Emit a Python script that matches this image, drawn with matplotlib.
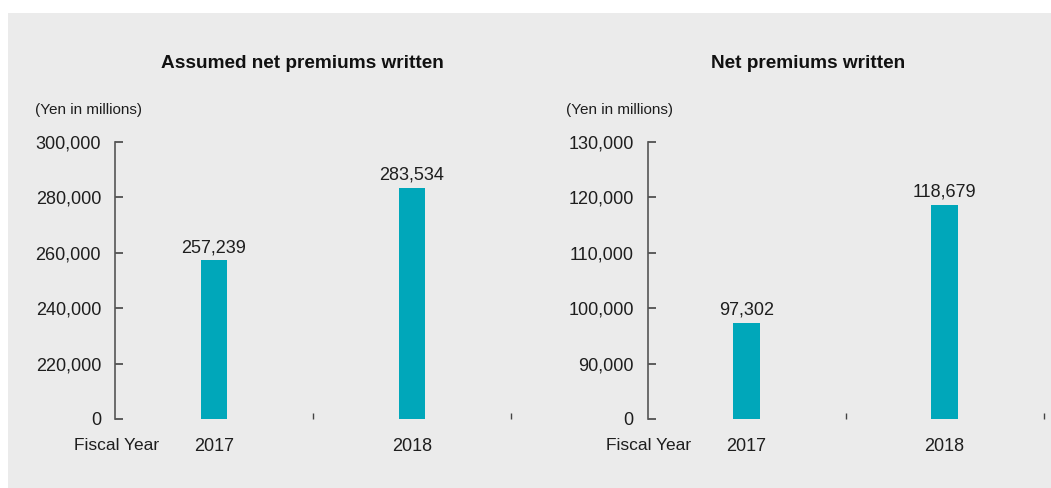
import matplotlib
matplotlib.use('Agg')
import matplotlib.pyplot as plt
from matplotlib.patches import Rectangle
from matplotlib.ticker import FixedLocator

# data
years = ['2017', '2018']
assumed_values = [257239, 283534]
net_values = [97302, 118679]

# broken scales: bottom tick is labelled 0
assumed_ticks = [200000, 220000, 240000, 260000, 280000, 300000]
assumed_labels = ['0', '220,000', '240,000', '260,000', '280,000', '300,000']
net_ticks = [80000, 90000, 100000, 110000, 120000, 130000]
net_labels = ['0', '90,000', '100,000', '110,000', '120,000', '130,000']

BAR_COLOR = '#00a7ba'
BG = '#ebebeb'
TEXT = '#1e1e1e'

plt.rcParams['font.family'] = ['Liberation Sans', 'DejaVu Sans']

fig = plt.figure(figsize=(10.51, 4.88), dpi=100)
fig.patch.set_facecolor('white')
# gray panel behind both charts
fig.patches.append(Rectangle((8 / 1051, 0), 1 - 8 / 1051, 1 - 13 / 488,
                             transform=fig.transFigure, facecolor=BG,
                             edgecolor='none', zorder=-10))

panels = [
    (0.1094, 'Assumed net premiums written', assumed_values, assumed_ticks, assumed_labels,
     302 / 1051, 35 / 1051, 159 / 1051),
    (0.6161, 'Net premiums written', net_values, net_ticks, net_labels,
     808.5 / 1051, 566 / 1051, 691 / 1051),
]

for left, title, values, ticks, labels, title_x, unit_x, fy_x in panels:
    ax = fig.add_axes([left, 0.1414, 0.3768, 0.5676])
    ax.set_facecolor('none')
    x = range(len(years))
    bars = ax.bar(x, values, width=0.136, color=BAR_COLOR, zorder=2)
    ax.bar_label(bars, labels=[f'{v:,}' for v in values], padding=3,
                 fontsize=13, color=TEXT)

    ax.set_xlim(-0.5, 1.5)
    ax.set_ylim(ticks[0], ticks[-1])
    ax.set_yticks(ticks)
    ax.set_yticklabels(labels)
    ax.set_xticks(list(x))
    ax.set_xticklabels(years)
    ax.xaxis.set_minor_locator(FixedLocator([0.5, 1.5]))

    for side in ['top', 'right', 'bottom']:
        ax.spines[side].set_visible(False)
    ax.spines['left'].set_color('#555555')
    ax.spines['left'].set_linewidth(1.2)

    ax.tick_params(axis='y', direction='in', length=6, width=1.2, color='#444444',
                   pad=10, labelsize=13, labelcolor=TEXT)
    ax.tick_params(axis='x', which='major', length=0, pad=14, labelsize=13,
                   labelcolor=TEXT)
    ax.tick_params(axis='x', which='minor', direction='in', length=4, width=1,
                   color='#444444')

    fig.text(title_x, 1 - 63 / 488, title, ha='center', va='center',
             fontsize=13.7, fontweight='bold', color='#111111')
    fig.text(unit_x, 1 - 110 / 488, '(Yen in millions)', ha='left', va='center',
             fontsize=11, color=TEXT)
    fig.text(fy_x, 1 - 446 / 488, 'Fiscal Year', ha='right', va='center',
             fontsize=12.5, color=TEXT)

plt.savefig('out.png', dpi=100, facecolor=fig.get_facecolor())
